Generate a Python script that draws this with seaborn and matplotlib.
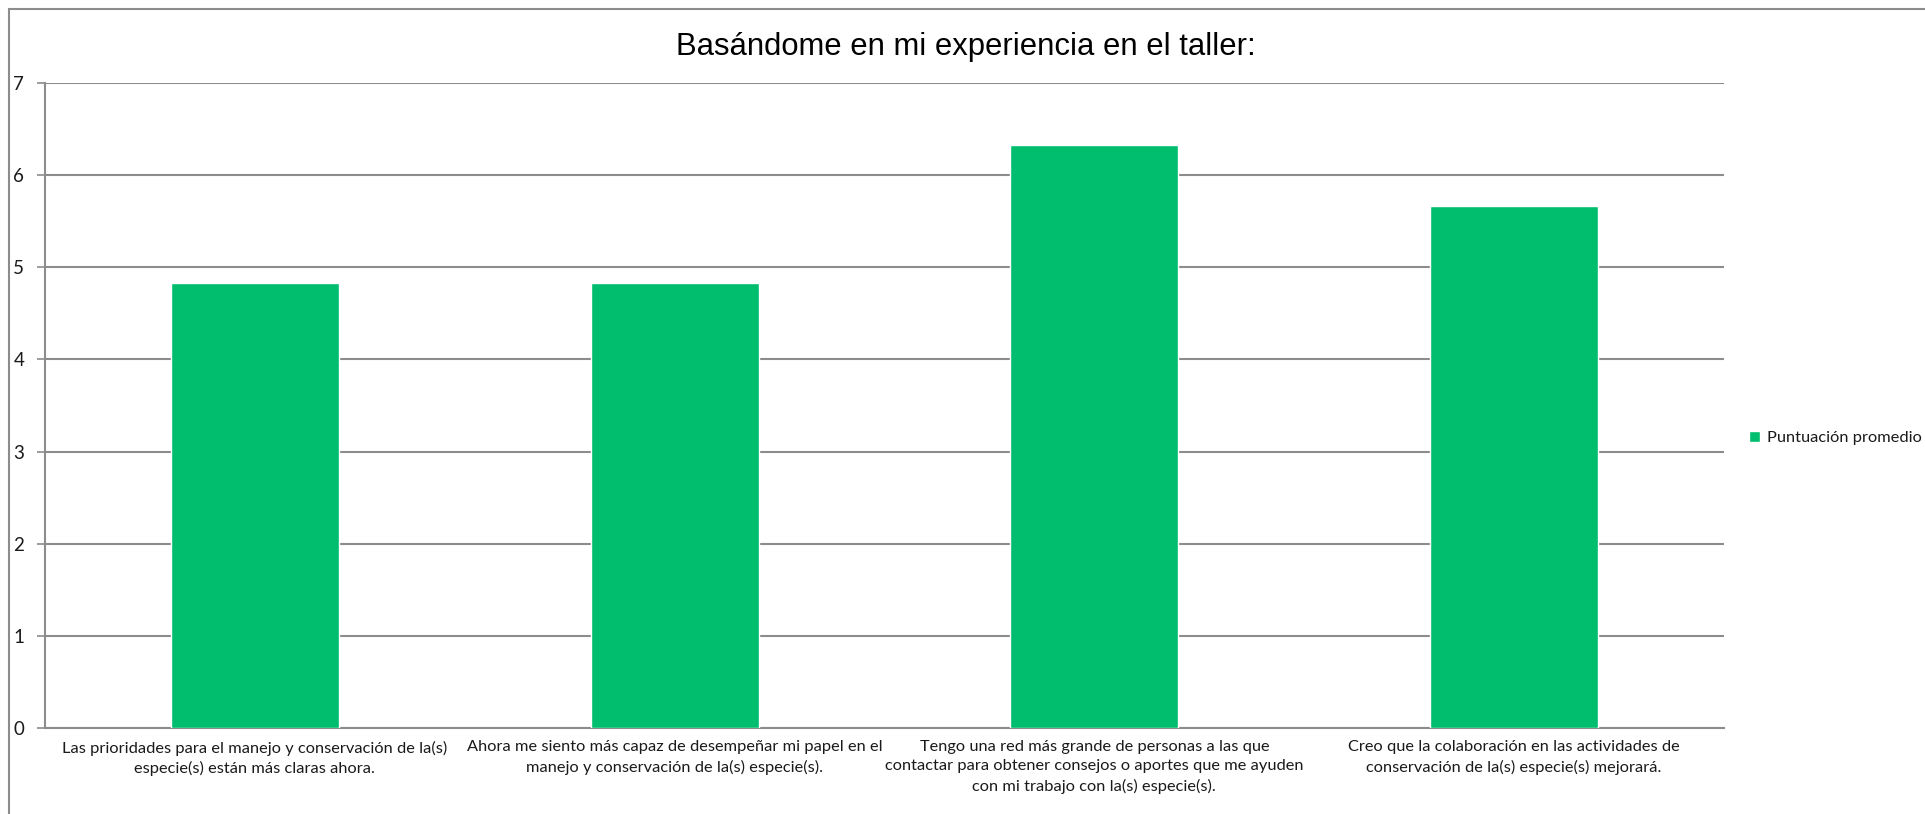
import matplotlib
matplotlib.use("Agg")
import matplotlib.pyplot as plt
import seaborn as sns
import pandas as pd
from matplotlib.patches import Rectangle

# Survey statements (x categories) and mean scores
statements = [
    "Las prioridades para el manejo y conservación de la(s)\nespecie(s) están más claras ahora.",
    "Ahora me siento más capaz de desempeñar mi papel en el\nmanejo y conservación de la(s) especie(s).",
    "Tengo una red más grande de personas a las que\ncontactar para obtener consejos o aportes que me ayuden\ncon mi trabajo con la(s) especie(s).",
    "Creo que la colaboración en las actividades de\nconservación de la(s) especie(s) mejorará.",
]
scores = [4.83, 4.83, 6.33, 5.67]
series_name = "Puntuación promedio"
title = "Basándome en mi experiencia en el taller:"
y_ticks = [0, 1, 2, 3, 4, 5, 6, 7]

sns.set_theme(style="white")
plt.rcParams["font.family"] = ["Lato", "DejaVu Sans"]

bar_color = "#00BE6E"
grid_color = "#8C8C8C"
text_color = "#1A1A1A"

df = pd.DataFrame({"statement": statements, "score": scores})

fig = plt.figure(figsize=(19.25, 8.14), dpi=100)
ax = fig.add_axes([45 / 1925, 1 - 728 / 814, (1724 - 45) / 1925, (728 - 83) / 814])

sns.barplot(data=df, x="statement", y="score", color=bar_color, width=0.4,
            saturation=1, ax=ax, label=series_name, zorder=3)

ax.set_xlim(-0.5, len(statements) - 0.5)
ax.set_ylim(0, 7)
ax.set_yticks(y_ticks)
ax.set_xlabel("")
ax.set_ylabel("")

# horizontal gridlines
ax.yaxis.grid(True, color=grid_color, linewidth=1.5, zorder=0)
ax.xaxis.grid(False)

for side in ["top", "right"]:
    ax.spines[side].set_visible(False)
for side in ["left", "bottom"]:
    ax.spines[side].set_color(grid_color)
    ax.spines[side].set_linewidth(1.5)

# category boundary tick marks on x, labels centred between them
ax.set_xticks([i - 0.5 for i in range(len(statements) + 1)], minor=True)
ax.tick_params(axis="x", which="minor", length=6, width=1.2, color=grid_color, direction="out")
ax.tick_params(axis="x", which="major", length=0, pad=9, labelsize=11.8, labelcolor=text_color)
ax.tick_params(axis="y", which="major", length=6, width=1.2, color=grid_color,
               direction="out", pad=9, labelsize=13.5, labelcolor=text_color, left=True)
for lab in ax.get_xticklabels():
    lab.set_horizontalalignment("center")
    lab.set_multialignment("center")
    lab.set_linespacing(1.45)

fig.text(966 / 1925, 1 - 47 / 814, title, ha="center", va="center",
         fontsize=22.3, family=["Liberation Sans", "DejaVu Sans"], color="#000000")

handles, labels = ax.get_legend_handles_labels()
ax.legend(handles, labels, loc="center left", bbox_to_anchor=(1742 / 1925, 1 - 438 / 814),
          bbox_transform=fig.transFigure, frameon=False, fontsize=11.8,
          handlelength=0.7, handleheight=0.7, handletextpad=0.4, borderaxespad=0,
          labelcolor=text_color)

# outer chart frame
fig.patches.append(Rectangle((9 / 1925, -0.1), 1.2, 1 - 9 / 814 + 0.1,
                             transform=fig.transFigure, fill=False,
                             edgecolor="#8C8C8C", linewidth=1.5))

fig.savefig("out.png", dpi=100, facecolor="white")
